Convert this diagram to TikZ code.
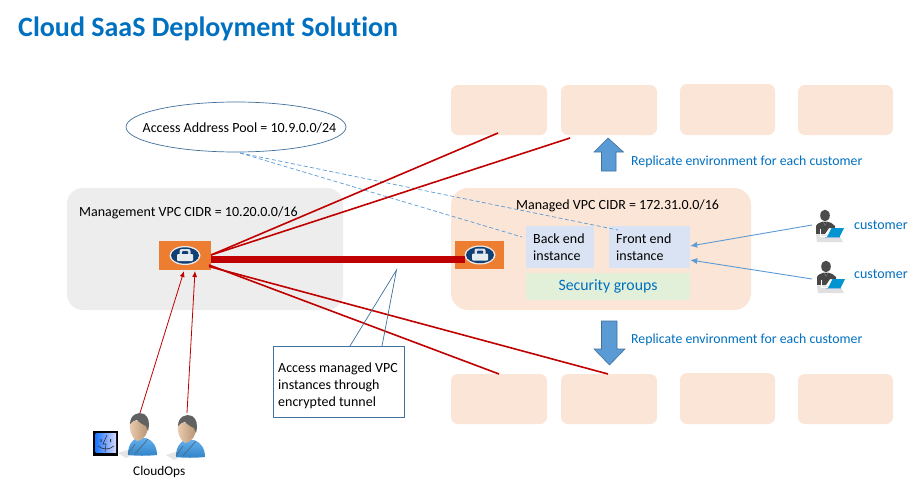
\documentclass[tikz,border=0pt]{standalone}
\usepackage{fontspec}
\setmainfont[Ligatures=NoCommon]{Carlito}
\usetikzlibrary{shapes.geometric,arrows.meta,shadings}
\definecolor{peach}{HTML}{FBE5D6}
\definecolor{mgmt}{HTML}{EDEDED}
\definecolor{vpn}{HTML}{ED7D31}
\definecolor{inst}{HTML}{DAE3F3}
\definecolor{secg}{HTML}{E2F0D9}
\definecolor{txtblue}{HTML}{0070C0}
\definecolor{linkblue}{HTML}{5B9BD5}
\definecolor{edgeblue}{HTML}{41719C}
\definecolor{darkred}{HTML}{C00000}
\definecolor{navy}{HTML}{123F73}
\definecolor{skin}{HTML}{E3B88F}
\definecolor{shirt}{HTML}{3A9BEA}
\tikzset{
  x=1pt,y=-1pt,
  peachbox/.style={fill=peach,rounded corners=7pt,draw=none},
  lbl/.style={font=\fontsize{14}{16.8}\selectfont,inner sep=0pt,anchor=base west,text=black},
  bluelbl/.style={lbl,text=txtblue},
  redline/.style={draw=darkred,line width=1.6pt},
  opsline/.style={draw=darkred,line width=0.8pt,-{Latex[length=6pt,width=5pt]}},
  custline/.style={draw=linkblue,line width=0.9pt,-{Latex[length=7pt,width=6pt]}},
  dashline/.style={draw=linkblue,line width=0.7pt,dash pattern=on 4pt off 2.5pt},
  blockarrow/.style={fill=linkblue,draw=edgeblue,line width=0.6pt},
  vpnicon/.pic={
    \fill[white!85!gray] (0,0) ellipse [x radius=15.5,y radius=9.5];
    \fill[navy] (0,0) ellipse [x radius=14,y radius=8.2];
    \fill[white!85!navy,rounded corners=2pt] (-5.5,-6.5) rectangle (5.5,0);
    \fill[navy,rounded corners=1pt] (-3,-4.5) rectangle (3,0);
    \fill[white!90!navy,rounded corners=1pt] (-8,-1.5) rectangle (8,5.5);
  },
  opsperson/.pic={
    \fill[black!10] (-21,28) -- (-12,25) -- (-4,28) -- (-13,33) -- cycle;
    \shade[top color=shirt!80!white,bottom color=shirt!85!black]
      (-11,30) .. controls (-11,20) and (-7,15) .. (-2,13) -- (7,13) .. controls (14,15) and (18,22) .. (18,30) .. controls (8,31) and (-2,31) .. (-11,30) -- cycle;
    \draw[navy!60!black!70,line width=0.7pt] (-11,29) -- (-4,19) (-4,29) -- (9,14);
    \shade[left color=skin!70!white,right color=skin!80!black]
      (-9,-3) .. controls (-10,6) and (-7,13) .. (-2,16) .. controls (3,16) and (9,10) .. (9,1) -- (8,-6) -- cycle;
    \fill[black!62] (-9,-1) .. controls (-9,-10) and (-1,-14) .. (5,-11) .. controls (10,-8) and (11,-2) .. (9,6) -- (7,1) .. controls (4,0) and (0,-3) .. (-2,-5) .. controls (-5,-5) and (-7,-3) .. (-9,-1) -- cycle;
  },
  custperson/.pic={
    \fill[black!12] (-9,14) -- (14,14) -- (18,21) -- (-8,21) -- cycle;
    \fill[black!70] (0,-5.5) circle [x radius=4.8,y radius=5.8];
    \fill[black!72] (-9,13) -- (-9,5) .. controls (-8,2) and (-4,1.5) .. (-2,0.5) -- (2,0.5) .. controls (5,1.5) and (8,2) .. (10,5) -- (10,7) -- (4,7) -- (0,13) -- cycle;
    \fill[white] (-1.5,0.5) -- (1.5,0.5) -- (0,6) -- cycle;
    \fill[black!80] (-0.8,1) -- (0.8,1) -- (0.6,6) -- (0,8) -- (-0.6,6) -- cycle;
    \draw[white,line width=1pt] (-5,8) -- (-5,15) -- (2,15);
    \fill[txtblue!75!cyan] (2,16) -- (6.5,7) -- (19,7) -- (14.5,16) -- cycle;
    \fill[linkblue!70] (0,16) rectangle (15,17);
  },
}
\begin{document}
\begin{tikzpicture}
\useasboundingbox (0,0) rectangle (918,487);
\fill[white] (0,0) rectangle (918,487);

\node[font=\bfseries\fontsize{28}{32}\selectfont,text=txtblue,inner sep=0pt,anchor=base west] (title) at (18,37) {Cloud SaaS Deployment Solution};

% replicate boxes
\foreach \n/\a/\b/\c/\d in {t1/451/85/547/135,t2/561/85/657/135,t3/680/84/775/135,t4/798/85/893/135,
                            b1/451/374/547/424,b2/561/374/657/424,b3/680/373/775/424,b4/798/374/893/424}{
  \path[peachbox] (\a,\b) rectangle (\c,\d);
  \coordinate (\n) at (\a,\b);
}
\coordinate (t1end) at (498,133);
\coordinate (t2end) at (570,138);
\coordinate (b1end) at (499,374);
\coordinate (b2end) at (608,374);

% VPC areas
\path[fill=mgmt,rounded corners=16pt] (67,188) rectangle (343,310);
\path[fill=peach,rounded corners=17pt] (451,188) rectangle (751,310);

\node[lbl] (mgmtlabel) at (79,216) {Management VPC CIDR = 10.20.0.0/16};
\node[lbl] (managedlabel) at (516,209) {Managed VPC CIDR = 172.31.0.0/16};

% instance boxes
\node[fill=inst,minimum width=68pt,minimum height=42pt,inner sep=0pt] (back) at (560,247) {};
\node[fill=inst,minimum width=81pt,minimum height=42pt,inner sep=0pt] (front) at (649.5,247) {};
\node[fill=secg,minimum width=164pt,minimum height=27pt,inner sep=0pt,font=\fontsize{15.8}{18}\selectfont,text=txtblue] (sec) at (608,286.5) {\raisebox{-1.5pt}{Security groups}};
\node[lbl] (backa) at (533,243) {Back end};
\node[lbl] (backb) at (533,260) {instance};
\node[lbl] (fronta) at (616,243) {Front end};
\node[lbl] (frontb) at (616,260) {instance};

% ellipse
\node[ellipse,draw=edgeblue,line width=0.7pt,fill=white,minimum width=220pt,minimum height=50pt,inner sep=0pt] (pool) at (236,127) {};
\node[lbl] (poollabel) at (142.5,132) {Access Address Pool = 10.9.0.0/24};

% VPN boxes
\node[fill=vpn,minimum width=52pt,minimum height=29pt,inner sep=0pt] (vpnl) at (185,255.5) {};
\node[fill=vpn,minimum width=49pt,minimum height=28pt,inner sep=0pt] (vpnr) at (479.5,255) {};
\path (185,255.5) pic {vpnicon};
\path (480,255) pic {vpnicon};

% dashed
\coordinate (poolbot) at (240,153);
\coordinate (backend) at (522,237);
\coordinate (frontend) at (618,230);
\draw[dashline] (poolbot) -- (backend);
\draw[dashline] (poolbot) -- (frontend);

% red links
\coordinate (la) at (211,255);
\coordinate (lb) at (209,265);
\coordinate (lc) at (209,266.5);
\draw[redline] (la) -- (t1end);
\draw[redline] (la) -- (t2end);
\draw[redline] (lb) -- (b1end);
\draw[redline] (lc) -- (b2end);
\draw[draw=darkred,line width=7pt] (vpnl.east |- 0,259) -- (465,259);

% callout
\coordinate (tip) at (396.5,270);
\node[draw=edgeblue,line width=0.7pt,fill=white,minimum width=131pt,minimum height=71pt,inner sep=0pt] (callout) at (338.5,381.5) {};
\draw[draw=edgeblue,line width=0.7pt,fill=none] (350,346) -- (tip) -- (382,346);
\node[lbl] (c1) at (278,372) {Access managed VPC};
\node[lbl] (c2) at (278,389) {instances through};
\node[lbl] (c3) at (278,406) {encrypted tunnel};

% replicate arrows
\path[blockarrow] (608,138) -- (623.5,152) -- (616,152) -- (616,171) -- (601.5,171) -- (601.5,152) -- (594,152) -- cycle;
\path[blockarrow] (601.5,321) -- (617,321) -- (617,349) -- (625,349) -- (609.5,365) -- (594,349) -- (601.5,349) -- cycle;
\node[bluelbl,font=\fontsize{13.8}{16.5}\selectfont] (rep1) at (631,165) {Replicate environment for each customer};
\node[bluelbl,font=\fontsize{13.8}{16.5}\selectfont] (rep2) at (631,343) {Replicate environment for each customer};

% customers
\path (825,221) pic {custperson};
\path (826,272) pic {custperson};
\coordinate (cust1) at (812,225);
\coordinate (cust2) at (812,279);
\draw[custline] (cust1) -- (front.east |- 0,246);
\draw[custline] (cust2) -- (front.east |- 0,260);
\node[bluelbl] (cu1) at (854,229) {customer};
\node[bluelbl] (cu2) at (854,278) {customer};

% cloudops
\path (139,425) pic {opsperson};
\path (187,427) pic {opsperson};
\coordinate (op1) at (140,413);
\coordinate (op2) at (187,413);
\draw[opsline] (op1) -- (184,271);
\draw[opsline] (op2) -- (195,271);
\node[lbl,font=\fontsize{13.3}{16}\selectfont] (ops) at (133,475) {CloudOps};

% finder icon
\node[fill=black,minimum width=25pt,minimum height=25pt,inner sep=0pt] (finder) at (105.5,443.5) {};
\shade[left color=blue!60!cyan!90!white,right color=blue!15!white] (95.5,433.5) rectangle (116,452.5);
\draw[black!80,line width=0.6pt] (107,435) -- (103,444) -- (106,444) -- (105,452);
\draw[black!80,line width=0.6pt] (98,446) .. controls (103,450) and (109,450) .. (114,446);
\fill[black!80] (100.5,439) rectangle (101.7,442) (110,439) rectangle (111.2,442);
\end{tikzpicture}
\end{document}
